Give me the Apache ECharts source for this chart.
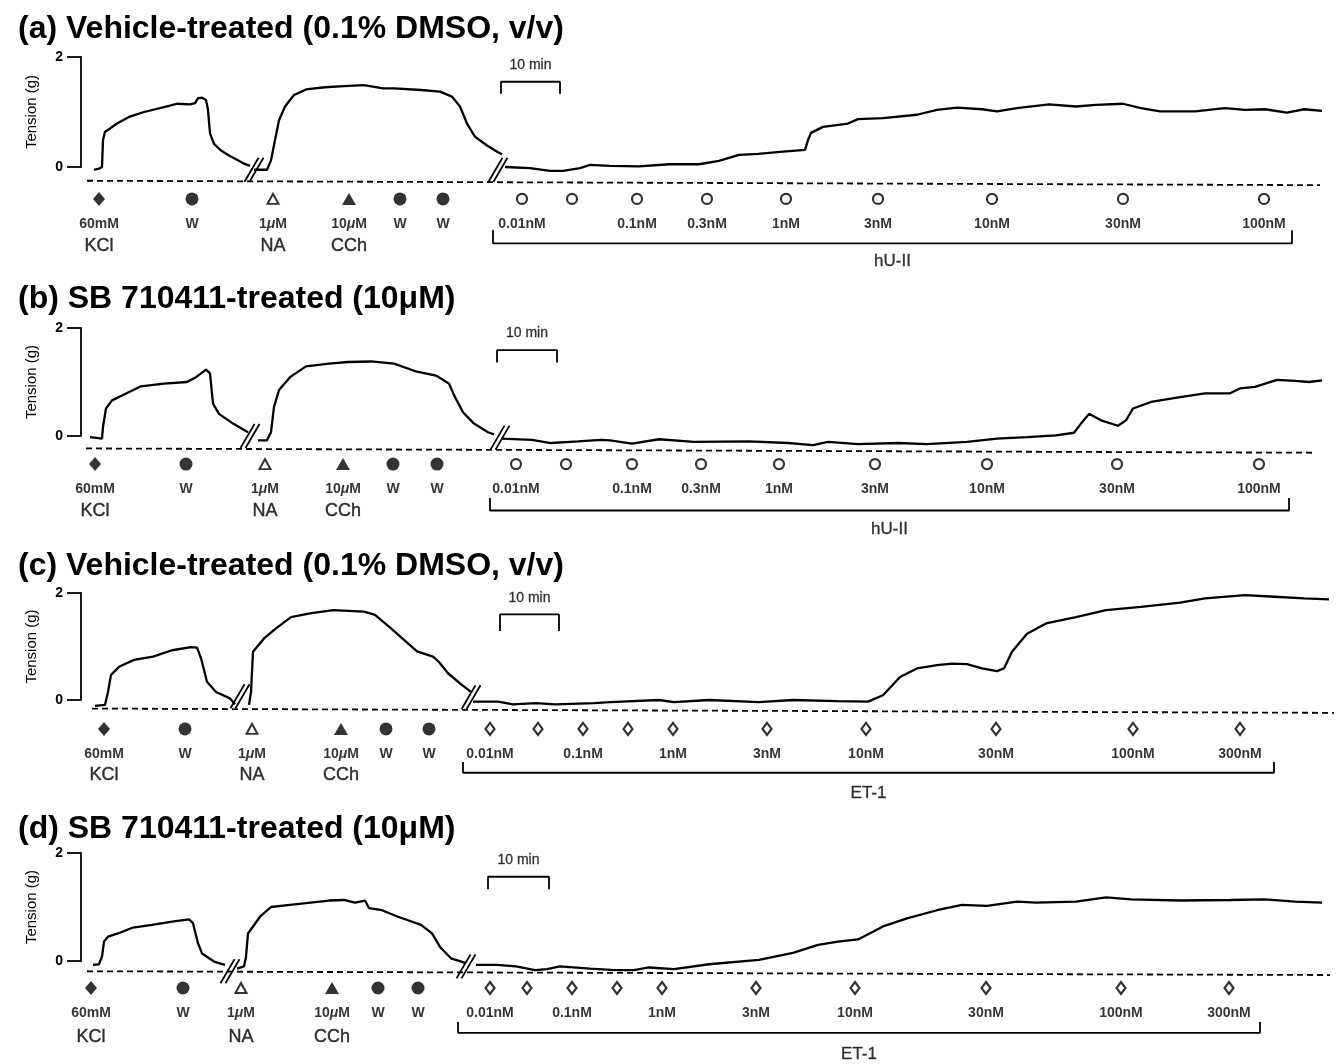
<!DOCTYPE html>
<html><head><meta charset="utf-8">
<script src="https://cdn.jsdelivr.net/npm/echarts@6/dist/echarts.min.js"></script>
<style>html,body{margin:0;padding:0;background:#fff}#c{width:1338px;height:1064px}</style>
</head><body><div id="c"></div><script>
// ---------------- DATA ----------------
// t = horizontal position along the recorder trace (arbitrary units; 10 min ≈ 59 units)
// Tension in g
const panelTitles = [
  '(a) Vehicle-treated (0.1% DMSO, v/v)',
  '(b) SB 710411-treated (10\u03bcM)',
  '(c) Vehicle-treated (0.1% DMSO, v/v)',
  '(d) SB 710411-treated (10\u03bcM)'
];
const yTicks = [0, 2];
const yAxisName = 'Tension (g)';
const scaleBarText = '10 min';
const peptideNames = ['hU-II', 'hU-II', 'ET-1', 'ET-1'];

// trace (a), three segments separated by breaks
const traceA1 = [[94,-0.05],[99,-0.03],[102,0.0],[103,0.49],[105,0.64],[110,0.70],[117,0.79],[129,0.91],[144,1.0],[160,1.07],[169,1.11],[177,1.15],[190,1.14],[195,1.16],[198,1.25],[202,1.26],[206,1.22],[208,1.04],[210,0.61],[214,0.42],[221,0.30],[229,0.21],[237,0.13],[244,0.06],[250,0.02]];
const traceA2 = [[254,-0.05],[267,-0.05],[271,0.12],[275,0.49],[279,0.85],[285,1.10],[294,1.31],[306,1.41],[325,1.45],[344,1.47],[364,1.49],[383,1.43],[394,1.43],[421,1.40],[440,1.37],[452,1.28],[460,1.10],[467,0.79],[475,0.55],[487,0.39],[498,0.27],[502,0.23]];
const traceA3 = [[505,0],[530,-0.02],[550,-0.07],[563,-0.07],[580,-0.02],[590,0.04],[610,0.02],[639,0.01],[669,0.05],[699,0.05],[719,0.11],[739,0.22],[758,0.24],[783,0.28],[805,0.31],[808,0.49],[811,0.62],[823,0.73],[848,0.79],[858,0.87],[883,0.89],[917,0.95],[937,1.04],[957,1.08],[982,1.05],[997,1.01],[1017,1.07],[1049,1.14],[1076,1.10],[1096,1.13],[1123,1.15],[1141,1.07],[1160,1.01],[1195,1.01],[1225,1.07],[1245,1.04],[1265,1.05],[1287,0.99],[1304,1.05],[1322,1.02]];
// trace (b)
const traceB1 = [[90,-0.02],[102,-0.05],[103,0.17],[106,0.51],[112,0.66],[122,0.75],[141,0.92],[164,0.97],[187,1.0],[196,1.09],[206,1.23],[210,1.16],[213,0.60],[219,0.41],[233,0.23],[248,0.07]];
const traceB2 = [[258,-0.08],[267,-0.08],[271,0.07],[274,0.54],[279,0.85],[290,1.09],[306,1.29],[329,1.34],[348,1.37],[371,1.38],[394,1.34],[417,1.19],[436,1.12],[449,0.97],[455,0.72],[463,0.44],[474,0.23],[488,0.07],[494,0.03]];
const traceB3 = [[501,-0.05],[532,-0.07],[551,-0.13],[578,-0.10],[601,-0.07],[610,-0.08],[632,-0.14],[659,-0.06],[694,-0.11],[749,-0.10],[788,-0.13],[813,-0.17],[828,-0.11],[858,-0.15],[898,-0.13],[927,-0.15],[967,-0.11],[997,-0.05],[1027,-0.02],[1056,0.01],[1074,0.06],[1081,0.23],[1089,0.41],[1101,0.29],[1118,0.19],[1126,0.29],[1133,0.51],[1151,0.63],[1180,0.72],[1205,0.79],[1230,0.79],[1240,0.88],[1255,0.91],[1277,1.04],[1295,1.02],[1309,1.00],[1322,1.03]];
// trace (c)
const traceC1 = [[95,-0.11],[105,-0.09],[108,0.15],[111,0.47],[119,0.62],[134,0.75],[153,0.81],[172,0.93],[191,0.99],[197,0.98],[201,0.78],[207,0.34],[216,0.15],[230,0.03],[235,-0.08]];
const traceC2 = [[249,-0.09],[251,0.15],[253,0.90],[264,1.15],[276,1.34],[291,1.55],[310,1.62],[333,1.68],[364,1.65],[375,1.59],[391,1.34],[406,1.09],[417,0.91],[433,0.81],[439,0.71],[448,0.50],[460,0.31],[471,0.15]];
const traceC3 = [[473,-0.03],[498,-0.03],[513,-0.08],[536,-0.06],[555,-0.08],[594,-0.06],[610,-0.04],[659,0],[674,-0.04],[709,0],[759,-0.04],[793,0],[838,-0.02],[868,-0.03],[883,0.09],[900,0.43],[917,0.59],[937,0.65],[952,0.68],[967,0.67],[982,0.59],[997,0.54],[1004,0.59],[1012,0.90],[1027,1.24],[1046,1.43],[1076,1.55],[1106,1.68],[1141,1.74],[1180,1.82],[1205,1.90],[1245,1.96],[1275,1.93],[1304,1.90],[1329,1.88]];
// trace (d)
const traceD1 = [[93,-0.07],[99,-0.06],[102,0.08],[104,0.36],[108,0.45],[118,0.51],[133,0.62],[152,0.67],[172,0.73],[189,0.77],[191,0.80],[193,0.70],[198,0.33],[202,0.14],[214,-0.01],[225,-0.07]];
const traceD2 = [[237,-0.14],[244,-0.10],[246,0.08],[248,0.51],[260,0.82],[271,1.0],[290,1.04],[306,1.07],[329,1.12],[344,1.13],[355,1.08],[365,1.12],[369,0.98],[382,0.94],[398,0.82],[421,0.67],[432,0.51],[440,0.26],[451,0.05],[466,-0.04]];
const traceD3 = [[476,-0.07],[497,-0.07],[516,-0.10],[535,-0.17],[547,-0.15],[560,-0.10],[590,-0.14],[615,-0.17],[634,-0.17],[649,-0.12],[674,-0.15],[709,-0.06],[759,0.02],[793,0.15],[818,0.30],[838,0.36],[858,0.40],[883,0.64],[907,0.79],[937,0.94],[962,1.04],[987,1.02],[1017,1.10],[1036,1.08],[1076,1.10],[1106,1.18],[1131,1.14],[1180,1.12],[1230,1.13],[1265,1.14],[1295,1.10],[1322,1.08]];

// drug additions (t positions)
const eventsA = [99,192,273,349,400,443,522,572,637,707,786,878,992,1123,1264];
const eventsB = [95,186,265,343,393,437,516,566,632,701,779,875,987,1117,1259];
const eventsC = [104,185,252,341,386,429,490,538,583,628,673,767,866,996,1133,1240];
const eventsD = [91,183,241,332,378,418,490,527,572,617,662,756,855,986,1121,1229];
const kindsHU = ['kcl','w','na','cch','w','w','pep','pep','pep','pep','pep','pep','pep','pep','pep'];
const kindsET = ['kcl','w','na','cch','w','w','pep','pep','pep','pep','pep','pep','pep','pep','pep','pep'];
const dosesHU = ['60mM','W','1\u03bcM','10\u03bcM','W','W','0.01nM','','0.1nM','0.3nM','1nM','3nM','10nM','30nM','100nM'];
const dosesET = ['60mM','W','1\u03bcM','10\u03bcM','W','W','0.01nM','','0.1nM','','1nM','3nM','10nM','30nM','100nM','300nM'];
const drugsHU = ['KCl','','NA','CCh','','','','','','','','','','',''];
const drugsET = ['KCl','','NA','CCh','','','','','','','','','','','',''];

// trace breaks (//), centre [t, g]
const breaksA = [[254,-0.05],[498,-0.05]];
const breaksB = [[250,0.0],[500,-0.03]];
const breaksC = [[240,0.07],[471,0.05]];
const breaksD = [[230,-0.19],[466,-0.10]];
// 10 min scale bar [t start, t end]
const scaleA = [501,560], scaleB = [497,557], scaleC = [500,559], scaleD = [488,549];
// peptide cumulative-addition bracket [t start, t end]
const bracketA = [493,1292], bracketB = [490,1289], bracketC = [463,1274], bracketD = [458,1260];

// ---------------- LAYOUT ----------------
const FONT = "'Liberation Sans', Arial, Helvetica, sans-serif";
const layout = [
  {titleTop: 13, left: 81, top: 57, height: 110, dash: [[87,-0.25],[1320,-0.33]], mY: -0.58, doseY: -1.03, drugY: -1.44, brY: -1.39, brTop: -1.15, brLabY: -1.71, sbText: 1.85, sbTop: 1.55, sbBot: 1.33, pepSym: 'circle'},
  {titleTop: 283, left: 81, top: 328, height: 108, dash: [[86,-0.23],[1314,-0.31]], mY: -0.52, doseY: -0.99, drugY: -1.39, brY: -1.38, brTop: -1.15, brLabY: -1.73, sbText: 1.90, sbTop: 1.59, sbBot: 1.36, pepSym: 'circle'},
  {titleTop: 550, left: 81, top: 593, height: 107, dash: [[92,-0.16],[1334,-0.24]], mY: -0.54, doseY: -1.01, drugY: -1.40, brY: -1.36, brTop: -1.16, brLabY: -1.74, sbText: 1.90, sbTop: 1.60, sbBot: 1.29, pepSym: 'diamond'},
  {titleTop: 813, left: 81, top: 853, height: 108, dash: [[87,-0.19],[1330,-0.26]], mY: -0.50, doseY: -0.96, drugY: -1.40, brY: -1.33, brTop: -1.13, brLabY: -1.72, sbText: 1.87, sbTop: 1.56, sbBot: 1.33, pepSym: 'diamond'}
];
const panels = [
  {traces:[traceA1,traceA2,traceA3], events:eventsA, kinds:kindsHU, doses:dosesHU, drugs:drugsHU, breaks:breaksA, scale:scaleA, bracket:bracketA},
  {traces:[traceB1,traceB2,traceB3], events:eventsB, kinds:kindsHU, doses:dosesHU, drugs:drugsHU, breaks:breaksB, scale:scaleB, bracket:bracketB},
  {traces:[traceC1,traceC2,traceC3], events:eventsC, kinds:kindsET, doses:dosesET, drugs:drugsET, breaks:breaksC, scale:scaleC, bracket:bracketC},
  {traces:[traceD1,traceD2,traceD3], events:eventsD, kinds:kindsET, doses:dosesET, drugs:drugsET, breaks:breaksD, scale:scaleD, bracket:bracketD}
];

function symStyle(kind, pepSym) {
  switch (kind) {
    case 'kcl': return {symbol:'diamond', symbolSize:[12,14], itemStyle:{color:'#000'}};
    case 'w':   return {symbol:'circle', symbolSize:13, itemStyle:{color:'#000'}};
    case 'na':  return {symbol:'triangle', symbolSize:[11,10], itemStyle:{color:'#fff', borderColor:'#000', borderWidth:2}};
    case 'cch': return {symbol:'triangle', symbolSize:[14,12], itemStyle:{color:'#000'}};
    default:    return pepSym === 'circle'
      ? {symbol:'circle', symbolSize:10, itemStyle:{color:'#fff', borderColor:'#000', borderWidth:2.2}}
      : {symbol:'diamond', symbolSize:[9,12], itemStyle:{color:'#fff', borderColor:'#000', borderWidth:2.2}};
  }
}

const option = {animation:false, backgroundColor:'#fff', title:[], grid:[], xAxis:[], yAxis:[], series:[]};

panels.forEach((p, i) => {
  const L = layout[i];
  option.title.push({text: panelTitles[i], left: 18, top: L.titleTop, padding: 0,
    textStyle:{fontFamily: FONT, fontSize: 32, fontWeight:'bold', color:'#000'}});
  option.grid.push({left: L.left, right: 0, top: L.top, height: L.height, containLabel:false});
  option.xAxis.push({type:'value', gridIndex:i, min: L.left, max: 1338, show:false});
  option.yAxis.push({type:'value', gridIndex:i, min: yTicks[0], max: yTicks[1], interval: yTicks[1]-yTicks[0],
    name: yAxisName, nameLocation:'middle', nameGap: 42,
    nameTextStyle:{fontFamily: FONT, fontSize: 15, color:'#000'},
    axisLine:{show:true, onZero:false, lineStyle:{color:'#000', width:1.8}},
    axisTick:{show:true, length:14, lineStyle:{color:'#000', width:1.8}},
    axisLabel:{fontFamily: FONT, fontSize: 14, fontWeight:'bold', color:'#000', margin: 18},
    splitLine:{show:false}});
  const base = {xAxisIndex:i, yAxisIndex:i, silent:true, animation:false};
  // traces
  p.traces.forEach(seg => option.series.push(Object.assign({type:'line', data: seg, showSymbol:false, symbol:'none', clip:false,
    lineStyle:{color:'#000', width:2.3}}, base)));
  // dashed baseline
  option.series.push(Object.assign({type:'line', data: L.dash, symbol:'none', clip:false,
    lineStyle:{color:'#000', width:1.8, type:[6,4]}}, base));
  // breaks
  option.series.push(Object.assign({type:'custom', data: p.breaks, clip:false,
    renderItem: (params, api) => {
      const c = api.coord([api.value(0), api.value(1)]);
      const mk = dx => ({type:'line', shape:{x1:c[0]-7+dx, y1:c[1]+12, x2:c[0]+7+dx, y2:c[1]-12},
        style:{stroke:'#000', lineWidth:1.8}});
      return {type:'group', children:[
        {type:'polygon', shape:{points:[[c[0]-9,c[1]+12],[c[0]+2,c[1]+12],[c[0]+9,c[1]-12],[c[0]-2,c[1]-12]]}, style:{fill:'#fff'}},
        mk(-2.5), mk(2.5)]};
    }}, base));
  // markers
  option.series.push(Object.assign({type:'scatter', clip:false, z:5,
    data: p.events.map((t, k) => Object.assign({value:[t, L.mY]}, symStyle(p.kinds[k], L.pepSym)))}, base));
  // dose labels
  const richMu = {mu:{fontStyle:'italic', fontFamily: FONT, fontSize:14, fontWeight:'bold', color:'#000'}};
  option.series.push(Object.assign({type:'scatter', clip:false, symbolSize:0,
    data: p.events.map((t, k) => [t, L.doseY, p.doses[k]]).filter(d => d[2] !== ''),
    label:{show:true, position:'inside', fontFamily: FONT, fontSize:14, fontWeight:'bold', color:'#000',
      formatter: q => q.value[2].replace('\u03bc', '{mu|\u03bc}'), rich: richMu}}, base));
  // drug names
  option.series.push(Object.assign({type:'scatter', clip:false, symbolSize:0,
    data: p.events.map((t, k) => [t, L.drugY, p.drugs[k]]).filter(d => d[2] !== ''),
    label:{show:true, position:'inside', fontFamily: FONT, fontSize:18, color:'#000',
      textBorderColor:'#000', textBorderWidth:0.4, formatter: q => q.value[2]}}, base));
  // bracket
  const b = p.bracket;
  option.series.push(Object.assign({type:'line', symbol:'none', clip:false,
    data: [[b[0], L.brTop],[b[0], L.brY],[b[1], L.brY],[b[1], L.brTop]],
    lineStyle:{color:'#000', width:1.8}}, base));
  option.series.push(Object.assign({type:'scatter', clip:false, symbolSize:0,
    data: [[(b[0]+b[1])/2, L.brLabY, peptideNames[i]]],
    label:{show:true, position:'inside', fontFamily: FONT, fontSize:17, color:'#000',
      textBorderColor:'#000', textBorderWidth:0.3, formatter: q => q.value[2]}}, base));
  // 10 min scale bar
  const s = p.scale;
  option.series.push(Object.assign({type:'line', symbol:'none', clip:false,
    data: [[s[0], L.sbBot],[s[0], L.sbTop],[s[1], L.sbTop],[s[1], L.sbBot]],
    lineStyle:{color:'#000', width:1.8}}, base));
  option.series.push(Object.assign({type:'scatter', clip:false, symbolSize:0,
    data: [[(s[0]+s[1])/2, L.sbText, scaleBarText]],
    label:{show:true, position:'inside', fontFamily: FONT, fontSize:14, color:'#000',
      textBorderColor:'#000', textBorderWidth:0.3, formatter: q => q.value[2]}}, base));
});

const chart = echarts.init(document.getElementById('c'), null, {renderer:'canvas'});
chart.setOption(option);
</script></body></html>
